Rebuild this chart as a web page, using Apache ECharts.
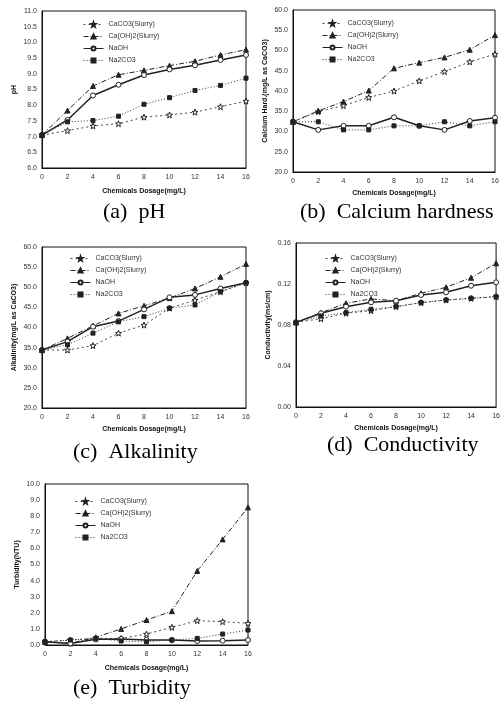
<!DOCTYPE html>
<html>
<head>
<meta charset="utf-8">
<title>Chemical dosage effects</title>
<script src="https://cdn.jsdelivr.net/npm/echarts@6/dist/echarts.min.js"></script>
<style>
  html, body { margin: 0; padding: 0; background: #fff; }
  #chart { width: 503px; height: 702px; }
</style>
</head>
<body>
<div id="chart"></div>
<script>
// dosage (mg/L) on every x axis
const dosage = [0, 2, 4, 6, 8, 10, 12, 14, 16];
const seriesNames = ['CaCO3(Slurry)', 'Ca(OH)2(Slurry)', 'NaOH', 'Na2CO3'];

// (a) pH
const phCaCO3  = [7.05, 7.19, 7.34, 7.41, 7.62, 7.69, 7.78, 7.95, 8.13];
const phCaOH2  = [7.05, 7.83, 8.61, 8.97, 9.11, 9.26, 9.40, 9.60, 9.77];
const phNaOH   = [7.05, 7.53, 8.31, 8.65, 8.96, 9.14, 9.27, 9.44, 9.60];
const phNa2CO3 = [7.05, 7.47, 7.51, 7.65, 8.03, 8.24, 8.47, 8.63, 8.86];

// (b) calcium hardness
const chCaCO3  = [32.4, 34.9, 36.4, 38.4, 40.0, 42.5, 44.8, 47.2, 49.1];
const chCaOH2  = [32.4, 35.1, 37.4, 40.1, 45.6, 47.0, 48.3, 50.2, 53.8];
const chNaOH   = [32.4, 30.4, 31.4, 31.4, 33.5, 31.4, 30.4, 32.6, 33.4];
const chNa2CO3 = [32.4, 32.4, 30.4, 30.4, 31.4, 31.4, 32.4, 31.4, 32.4];

// (c) alkalinity
const alCaCO3  = [34.4, 34.4, 35.5, 38.6, 40.6, 44.8, 46.8, 48.9, 51.1];
const alCaOH2  = [34.4, 37.3, 40.4, 43.5, 45.4, 47.3, 49.7, 52.6, 55.8];
const alNaOH   = [34.4, 36.5, 40.2, 41.6, 44.5, 47.5, 48.1, 49.7, 51.1];
const alNa2CO3 = [34.4, 35.7, 38.6, 41.4, 42.7, 44.8, 45.6, 48.9, 51.1];

// (d) conductivity
const coCaCO3  = [0.0826, 0.0861, 0.0915, 0.0940, 0.0979, 0.1018, 0.1044, 0.1060, 0.1076];
const coCaOH2  = [0.0826, 0.0920, 0.1012, 0.1054, 0.1037, 0.1109, 0.1168, 0.1261, 0.1402];
const coNaOH   = [0.0826, 0.0914, 0.0979, 0.1021, 0.1037, 0.1093, 0.1119, 0.1183, 0.1216];
const coNa2CO3 = [0.0826, 0.0888, 0.0920, 0.0953, 0.0979, 0.1018, 0.1044, 0.1060, 0.1076];

// (e) turbidity
const tuCaCO3  = [0.2, 0.31, 0.41, 0.41, 0.68, 1.10, 1.51, 1.45, 1.35];
const tuCaOH2  = [0.2, 0.10, 0.48, 1.00, 1.55, 2.10, 4.60, 6.56, 8.55];
const tuNaOH   = [0.2, 0.10, 0.35, 0.37, 0.31, 0.31, 0.25, 0.27, 0.31];
const tuNa2CO3 = [0.2, 0.31, 0.41, 0.25, 0.20, 0.31, 0.41, 0.68, 0.93];

const ink = '#222';
const star = 'path://M0,-10L2.35,-3.24L9.51,-3.09L3.8,1.24L5.88,8.09L0,4L-5.88,8.09L-3.8,1.24L-9.51,-3.09L-2.35,-3.24Z';
const looks = [
  { symbol: star, symbolSize: 6, fill: '#fff', type: [2, 3], width: 1, color: '#444' },
  { symbol: 'triangle', symbolSize: 5, fill: ink, type: [5, 2, 1, 2], width: 1, color: ink },
  { symbol: 'circle', symbolSize: 5, fill: '#fff', type: 'solid', width: 1.5, color: ink },
  { symbol: 'rect', symbolSize: 4, fill: ink, type: [1, 2], width: 1, color: '#333' }
];

const panels = [
  { caption: '(a)  pH', yName: 'pH', min: 6, max: 11, step: 0.5, dec: 1,
    grid: [42, 11, 204, 157], legend: [83, 21], cap: [103, 201], xGap: 20,
    data: [phCaCO3, phCaOH2, phNaOH, phNa2CO3] },
  { caption: '(b)  Calcium hardness', yName: 'Calcium Hard.(mg/L as CaCO3)', min: 20, max: 60, step: 5, dec: 1,
    grid: [293, 10, 202, 162], legend: [322, 20], cap: [300, 201], xGap: 18,
    data: [chCaCO3, chCaOH2, chNaOH, chNa2CO3] },
  { caption: '(c)  Alkalinity', yName: 'Alkalinity(mg/L as CaCO3)', min: 20, max: 60, step: 5, dec: 1,
    grid: [42, 247, 204, 161], legend: [70, 255], cap: [73, 441], xGap: 18,
    data: [alCaCO3, alCaOH2, alNaOH, alNa2CO3] },
  { caption: '(d)  Conductivity', yName: 'Conductivity(ms/cm)', min: 0, max: 0.16, step: 0.04, dec: 2,
    grid: [296, 243, 201, 164], legend: [325, 255], cap: [327, 434], xGap: 18,
    data: [coCaCO3, coCaOH2, coNaOH, coNa2CO3] },
  { caption: '(e)  Turbidity', yName: 'Turbidity(NTU)', min: 0, max: 10, step: 1, dec: 1,
    grid: [45, 484, 203, 161], legend: [75, 498], cap: [73, 677], xGap: 20,
    data: [tuCaCO3, tuCaOH2, tuNaOH, tuNa2CO3] }
];

const tiny = { fontFamily: 'Liberation Sans', fontSize: 7, color: '#333' };
const option = { animation: false, title: [], grid: [], xAxis: [], yAxis: [], legend: [], series: [] };

panels.forEach((p, i) => {
  option.title.push({
    text: p.caption, left: p.cap[0], top: p.cap[1], padding: 0,
    textStyle: { fontFamily: 'Liberation Serif', fontSize: 22, fontWeight: 'normal', color: '#000' }
  });
  option.grid.push({
    left: p.grid[0], top: p.grid[1], width: p.grid[2], height: p.grid[3],
    show: true, borderColor: '#111', borderWidth: 1, backgroundColor: '#fff'
  });
  option.xAxis.push({
    gridIndex: i, type: 'value', min: 0, max: 16, interval: 2,
    name: 'Chemicals Dosage(mg/L)', nameLocation: 'middle', nameGap: p.xGap,
    nameTextStyle: { ...tiny, fontWeight: 'bold', color: '#111' },
    axisLine: { show: true, lineStyle: { color: '#111' } },
    axisTick: { show: false }, splitLine: { show: false },
    axisLabel: { ...tiny, margin: 6 }
  });
  option.yAxis.push({
    gridIndex: i, type: 'value', min: p.min, max: p.max, interval: p.step,
    name: p.yName, nameLocation: 'middle', nameGap: 24, nameRotate: 90,
    nameTextStyle: { ...tiny, fontWeight: 'bold', color: '#111' },
    axisLine: { show: true, lineStyle: { color: '#111' } },
    axisTick: { show: false }, splitLine: { show: false },
    axisLabel: { ...tiny, margin: 5, formatter: (v) => v.toFixed(p.dec) }
  });
  option.legend.push({
    left: p.legend[0], top: p.legend[1], orient: 'vertical',
    itemWidth: 20, itemHeight: 5, itemGap: 5, padding: 0,
    lineStyle: { width: 1 },
    textStyle: tiny, data: seriesNames
  });
  p.data.forEach((vals, k) => {
    const look = looks[k];
    option.series.push({
      name: seriesNames[k], type: 'line', xAxisIndex: i, yAxisIndex: i,
      data: dosage.map((d, j) => [d, vals[j]]),
      symbol: look.symbol, symbolSize: look.symbolSize, showAllSymbol: true,
      lineStyle: { color: look.color, width: look.width, type: look.type },
      itemStyle: { color: look.fill, borderColor: ink, borderWidth: 1 },
      z: 3 + k
    });
  });
});

const chart = echarts.init(document.getElementById('chart'), null, { renderer: 'canvas' });
chart.setOption(option);
</script>
</body>
</html>
